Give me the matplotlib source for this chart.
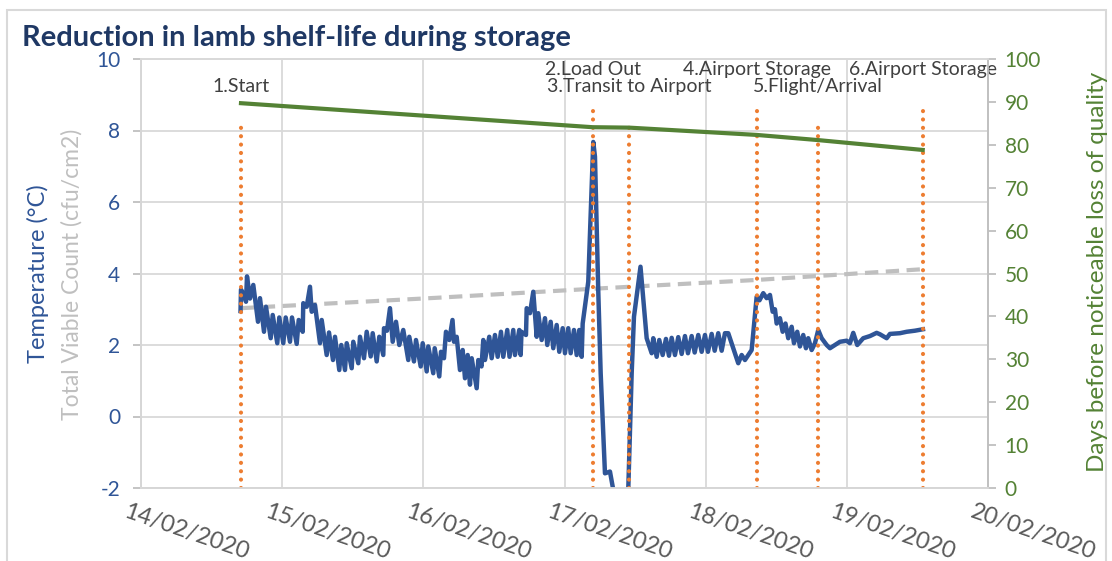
import datetime as dt
import matplotlib
matplotlib.use("Agg")
import matplotlib.pyplot as plt
import matplotlib.dates as mdates
import matplotlib.transforms as mtransforms
from matplotlib.patches import Rectangle

plt.rcParams["font.family"] = ["Lato", "DejaVu Sans"]
plt.rcParams["axes.unicode_minus"] = False

INICIO = dt.datetime(2020, 2, 14)

# Temperatura registrada (horas desde 14/02/2020 00:00)
horas_temp = [
    16.92, 17.00, 17.51, 17.85, 18.02, 18.53, 19.09, 19.89, 20.23, 20.91,
    21.25, 22.05, 22.39, 23.17, 23.51, 24.19, 24.60, 25.33, 25.67, 26.47,
    26.81, 27.49, 27.59, 28.17, 28.73, 29.02, 29.58, 30.43, 30.72, 31.57,
    31.96, 32.64, 32.98, 33.71, 34.05, 34.68, 34.97, 35.82, 36.09, 36.94,
    37.23, 37.91, 38.37, 39.05, 39.39, 40.07, 40.51, 41.19, 41.31, 41.82,
    42.33, 42.79, 43.35, 43.91, 44.59, 45.44, 45.61, 46.41, 46.75, 47.55,
    47.89, 48.57, 48.84, 49.69, 49.93, 50.71, 51.00, 51.51, 51.85, 52.41,
    52.96, 53.21, 53.67, 54.23, 54.69, 55.08, 55.54, 55.93, 56.22, 57.07,
    57.34, 57.89, 58.19, 58.48, 59.21, 59.62, 60.18, 60.64, 61.20, 61.59,
    62.27, 62.65, 63.29, 63.58, 64.31, 64.55, 64.69, 65.45, 65.57, 66.13,
    66.69, 67.27, 67.54, 68.12, 68.68, 69.07, 69.65, 70.09, 70.67, 71.11,
    71.69, 72.08, 72.64, 73.05, 73.61, 74.07, 74.51, 74.92, 75.09, 76.04,
    76.89, 77.18, 77.74, 78.15, 78.88, 79.73, 80.29, 81.43, 82.84, 83.42,
    83.81, 84.92, 85.97, 86.82, 87.09, 87.67, 88.11, 88.69, 89.25, 89.76,
    90.22, 90.78, 91.34, 91.92, 92.48, 92.99, 93.62, 94.13, 94.74, 95.32,
    95.88, 96.39, 97.02, 97.53, 98.14, 98.72, 99.28, 99.84, 101.54, 102.12,
    102.68, 103.82, 104.67, 105.15, 105.79, 106.37, 106.93, 107.39, 107.78, 108.07,
    108.63, 109.09, 109.57, 110.04, 110.62, 111.01, 111.57, 112.03, 112.59, 113.05,
    113.44, 114.02, 114.58, 115.14, 115.72, 116.57, 117.13, 117.98, 118.83, 119.97,
    120.53, 121.09, 121.77, 122.79, 123.93, 125.07, 125.63, 126.77, 127.33, 129.03,
    130.17, 131.58, 132.94,
]
temperatura = [
    2.95, 3.55, 3.40, 3.21, 3.92, 3.30, 3.68, 2.65, 3.31, 2.37,
    3.07, 2.19, 2.84, 2.05, 2.77, 2.05, 2.77, 2.09, 2.77, 2.03,
    2.70, 2.37, 3.17, 3.07, 3.63, 2.93, 3.12, 2.05, 2.70, 1.72,
    2.35, 1.58, 2.23, 1.30, 2.00, 1.30, 2.05, 1.35, 2.09, 1.49,
    2.23, 1.63, 2.37, 1.68, 2.33, 1.54, 2.23, 1.72, 2.47, 2.40,
    3.03, 2.09, 2.65, 2.00, 2.42, 1.58, 2.23, 1.54, 2.14, 1.40,
    2.05, 1.26, 1.96, 1.21, 1.91, 1.12, 1.81, 1.63, 2.37, 2.14,
    2.70, 2.09, 2.23, 1.30, 1.86, 1.07, 1.72, 0.89, 1.63, 0.79,
    1.58, 1.40, 2.14, 1.58, 2.23, 1.63, 2.28, 1.67, 2.37, 1.67,
    2.42, 1.67, 2.42, 1.72, 2.42, 1.72, 2.37, 2.28, 3.03, 2.89,
    3.49, 2.23, 2.89, 2.14, 2.75, 2.00, 2.65, 1.91, 2.56, 1.81,
    2.47, 1.77, 2.47, 1.77, 2.42, 1.72, 2.42, 1.67, 2.60, 3.77,
    7.68, 7.27, 3.51, 1.21, -1.59, -1.54, -2.05, -3.50, -2.05, 1.21,
    2.79, 4.19, 2.19, 1.77, 2.19, 1.67, 2.14, 1.72, 2.17, 1.70,
    2.20, 1.72, 2.22, 1.75, 2.25, 1.77, 2.25, 1.79, 2.28, 1.81,
    2.28, 1.81, 2.31, 1.84, 2.33, 1.84, 2.33, 2.33, 1.49, 1.72,
    1.58, 1.86, 3.35, 3.25, 3.45, 3.31, 3.40, 2.93, 3.00, 2.60,
    2.75, 2.37, 2.60, 2.19, 2.51, 2.05, 2.37, 1.96, 2.28, 1.91,
    2.19, 1.86, 2.05, 2.42, 2.19, 2.00, 1.91, 2.00, 2.09, 2.12,
    2.05, 2.34, 2.00, 2.19, 2.25, 2.34, 2.30, 2.19, 2.31, 2.33,
    2.37, 2.40, 2.44,
]

# Recuento total viable (eje izquierdo)
horas_tvc = [17.0, 50.2, 76.5, 104.7, 132.9]
tvc = [3.03, 3.32, 3.57, 3.82, 4.12]

# Días antes de pérdida de calidad (eje derecho)
horas_vida = [17.0, 76.8, 83.0, 104.7, 115.1, 132.9]
vida_util = [89.7, 84.1, 84.0, 82.3, 81.1, 78.8]

# Etapas del transporte
eventos = ["1.Start", "2.Load Out", "3.Transit to Airport",
           "4.Airport Storage", "5.Flight/Arrival", "6.Airport Storage"]
horas_eventos = [17.0, 76.84, 82.96, 104.72, 115.09, 132.94]
altura_eventos = [8.3, 8.77, 8.3, 8.77, 8.3, 8.77]

dias = ["14/02/2020", "15/02/2020", "16/02/2020", "17/02/2020",
        "18/02/2020", "19/02/2020", "20/02/2020"]


def a_fecha(horas):
    return [INICIO + dt.timedelta(hours=h) for h in horas]


AZUL = "#2F5597"
VERDE = "#548235"
GRIS = "#BFBFBF"
NARANJA = "#ED7D31"
REJILLA = "#D9D9D9"

fig = plt.figure(figsize=(11.12, 5.61), dpi=100)
ax = fig.add_axes([141 / 1112, 1 - 488 / 561, 847 / 1112, 429 / 561])
ax2 = ax.twinx()

# Series del eje izquierdo
ax.plot(a_fecha(horas_tvc), tvc, color=GRIS, lw=3.0, ls=(0, (3.2, 1.8)), zorder=2)
ax.plot(a_fecha(horas_temp), temperatura, color=AZUL, lw=3.2, zorder=3,
        solid_joinstyle="round")

# Líneas de cada etapa
for fecha, alto, texto in zip(a_fecha(horas_eventos), altura_eventos, eventos):
    ax.plot([fecha, fecha], [-2, alto], color=NARANJA, lw=3.0,
            ls=(0, (0.01, 2.0)), dash_capstyle="round", zorder=4)
    ax.annotate(texto, xy=(fecha, alto), xytext=(0, 24), textcoords="offset points",
                ha="center", va="center", fontsize=14, color="#404040", zorder=6)

# Serie del eje derecho
ax2.plot(a_fecha(horas_vida), vida_util, color=VERDE, lw=3.0)

ax.set_xlim(INICIO, INICIO + dt.timedelta(days=6))
ax.set_ylim(-2, 10)
ax.set_yticks(range(-2, 11, 2))
ax2.set_ylim(0, 100)
ax2.set_yticks(range(0, 101, 10))
ax.xaxis.set_major_locator(mdates.DayLocator())

ax.grid(True, color=REJILLA, lw=1.3)
ax.set_axisbelow(True)

for a in (ax, ax2):
    for lado in a.spines.values():
        lado.set_color(REJILLA)
        lado.set_linewidth(1.3)
ax.spines["left"].set_color(GRIS)
ax2.spines["right"].set_color(GRIS)
ax.spines["bottom"].set_color(GRIS)

ax.tick_params(axis="y", colors=GRIS, labelcolor=AZUL, labelsize=15,
               length=6, width=1.3, pad=9)
ax2.tick_params(axis="y", colors=GRIS, labelcolor=VERDE, labelsize=15,
                length=6, width=1.3, pad=6)
ax.tick_params(axis="x", length=0, labelbottom=False)

# Etiquetas de fecha inclinadas
desplazar = mtransforms.ScaledTranslation(0.45, -0.44, fig.dpi_scale_trans)
for i, texto in enumerate(dias):
    fecha = INICIO + dt.timedelta(days=i)
    ax.text(fecha, 0, texto, transform=ax.get_xaxis_transform() + desplazar,
            rotation=-19, ha="center", va="center", fontsize=17, color="#595959")

# Títulos de ejes y gráfico
fig.text(22 / 1112, 1 - 38 / 561, "Reduction in lamb shelf-life during storage",
         fontsize=21, fontweight="bold", color="#1F3864", va="center", ha="left")
fig.text(38 / 1112, 1 - 274 / 561, "Temperature (°C)", rotation=90,
         fontsize=17, color=AZUL, ha="center", va="center")
fig.text(72 / 1112, 1 - 274 / 561, "Total Viable Count (cfu/cm2)", rotation=90,
         fontsize=16.5, color=GRIS, ha="center", va="center")
fig.text(1098 / 1112, 1 - 272 / 561, "Days before noticeable loss of quality",
         rotation=90, fontsize=17.5, color=VERDE, ha="center", va="center")

# Marco del gráfico
fig.add_artist(Rectangle((7 / 1112, -0.05), 1099 / 1112, 1.05 - 10 / 561,
                         transform=fig.transFigure, fill=False,
                         edgecolor=REJILLA, lw=1.5))

fig.savefig("out.png", dpi=100)
